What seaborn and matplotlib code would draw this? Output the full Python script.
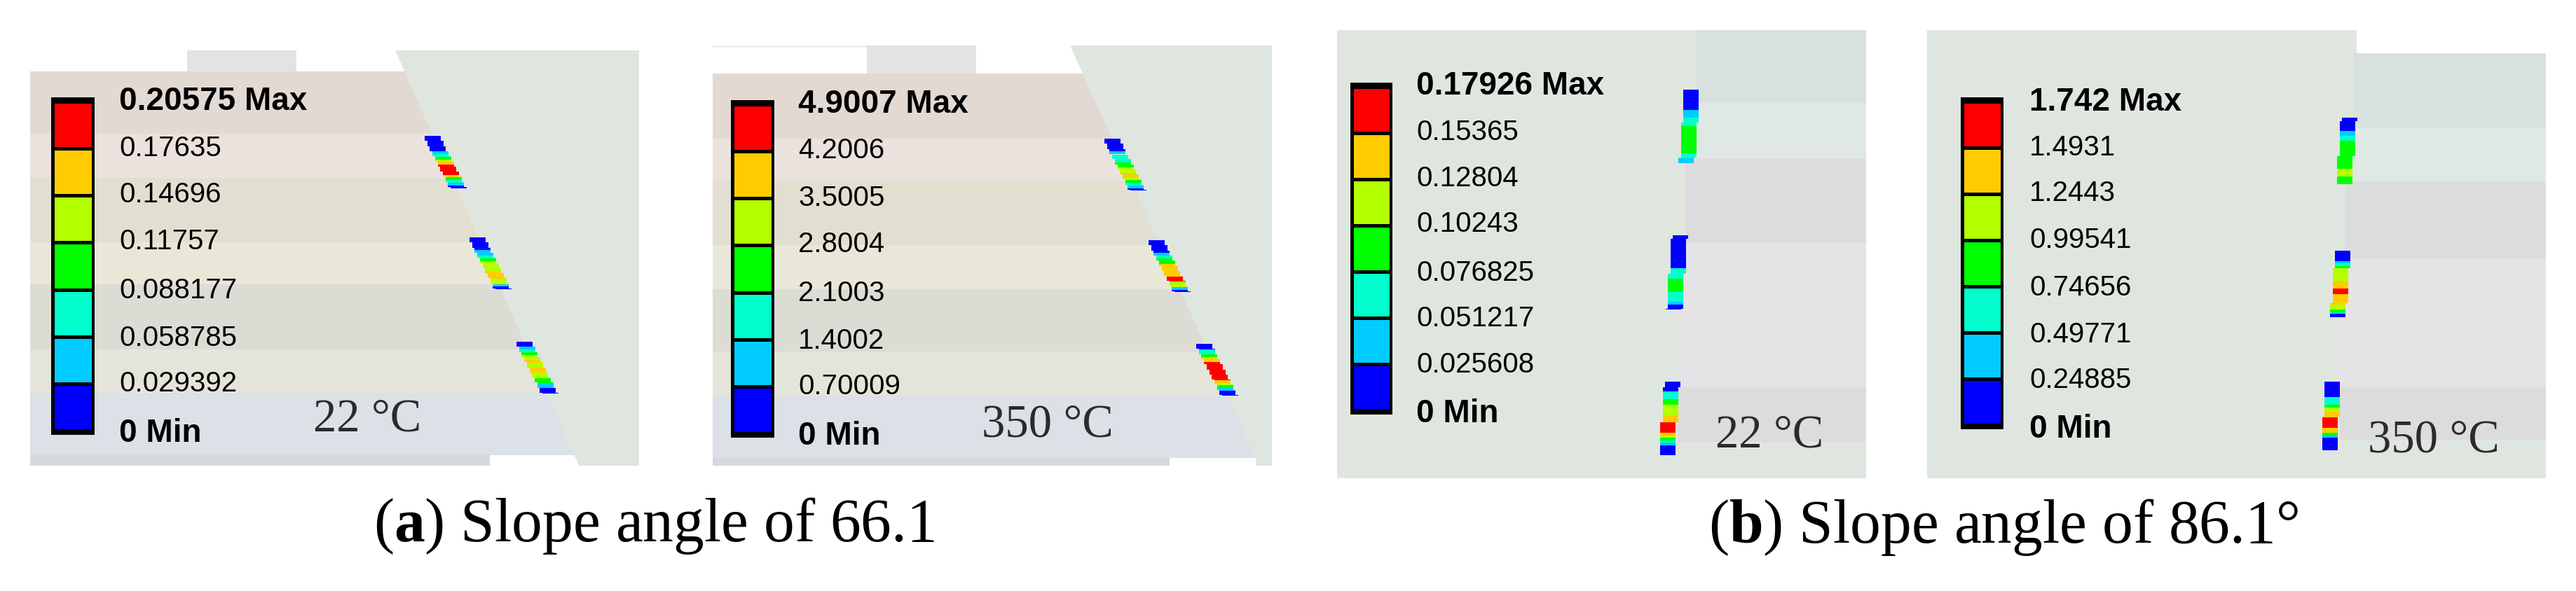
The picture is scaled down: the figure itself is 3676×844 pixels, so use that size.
import numpy as np
import matplotlib
matplotlib.use('Agg')
import matplotlib.pyplot as plt
from matplotlib.colors import ListedColormap
import seaborn as sns

# legend values, top to bottom
labels_a1 = ['0.20575 Max', '0.17635', '0.14696', '0.11757', '0.088177', '0.058785', '0.029392', '0 Min']
labels_a2 = ['4.9007 Max', '4.2006', '3.5005', '2.8004', '2.1003', '1.4002', '0.70009', '0 Min']
labels_b1 = ['0.17926 Max', '0.15365', '0.12804', '0.10243', '0.076825', '0.051217', '0.025608', '0 Min']
labels_b2 = ['1.742 Max', '1.4931', '1.2443', '0.99541', '0.74656', '0.49771', '0.24885', '0 Min']

temps = ['22 °C', '350 °C', '22 °C', '350 °C']
captions = [r'($\mathbf{a}$) Slope angle of 66.1', r'($\mathbf{b}$) Slope angle of 86.1°']

# colour level and length (px) of each run along the three stress strips of a panel
levels_a1 = [[0, 1, 2, 3, 4, 5, 6, 5, 3, 2, 1, 0], [0, 1, 2, 3, 4, 5, 4, 1, 0], [0, 1, 2, 3, 4, 5, 4, 5, 4, 3, 1, 0]]
runs_a1 = [[22.3, 4, 3.3, 4, 3.7, 3.7, 14.7, 3.7, 4, 3.7, 3.7, 4],
           [18.3, 7.7, 3.7, 4, 14.7, 11, 7.3, 3.7, 3.7],
           [7.3, 4, 3.7, 4, 7, 3.7, 7.3, 7.3, 7.3, 7.3, 7.3, 7.7]]
levels_a2 = [[0, 1, 2, 3, 4, 5, 4, 3, 2, 1, 0], [0, 1, 2, 3, 5, 6, 4, 1, 0], [0, 2, 3, 5, 6, 5, 4, 3, 1, 0]]
runs_a2 = [[18.4, 4.1, 11, 7.3, 7.8, 7.3, 3.3, 4.1, 4.1, 3.3, 3.7],
           [18.4, 3.7, 4.1, 7.3, 18.4, 7.3, 7.3, 4.1, 3.7],
           [7.8, 7.3, 4.1, 6.9, 25.7, 4.1, 3.3, 4.1, 3.7, 7.3]]
levels_b1 = [[0, 1, 2, 3, 2, 1], [0, 2, 3, 2, 1, 0], [0, 2, 3, 4, 5, 6, 5, 4, 3, 2, 1, 0]]
runs_b1 = [[29, 10.8, 11.7, 39.9, 6.9, 6.9],
           [47.3, 14.7, 18.6, 14.3, 3.9, 6.9],
           [14.3, 10.8, 8.2, 14.3, 10, 15.2, 3.9, 3.5, 4.3, 3, 3.5, 14.3]]
levels_b2 = [[0, 1, 2, 3, 4, 3], [0, 1, 2, 3, 4, 5, 6, 5, 4, 3, 2, 0], [0, 2, 3, 4, 5, 6, 5, 3, 1, 0]]
runs_b2 = [[18.6, 6.9, 7.4, 40.3, 10.8, 10.8],
           [15.2, 3, 3.5, 3.5, 19.1, 10, 7.4, 15.2, 6.9, 3.9, 2.6, 4.3],
           [21.7, 10.8, 4.3, 6.5, 7.8, 14.7, 6.9, 3.9, 3.5, 18.2]]

level_colors = ['#0000ff', '#00ccff', '#00ffcc', '#00ff00', '#b4ff00', '#ffcc00', '#ff0000']

# layout below, all in pixels of the 3676x844 picture
W, H = 3676, 844
green = '#dfe6df'
bands_a = ['#e3d9d3', '#ebe2dd', '#e2dfd1', '#e9e7d8', '#dddcd4', '#e4e4da', '#dce0e7', '#d5d8dc']
bands_b = ['#d9e1de', '#e0e8e6', '#dcdcde', '#e4e4e6', '#dcdcdc']

sns.set_theme(style='white')
plt.rcParams['font.family'] = ['Liberation Sans', 'DejaVu Sans']
plt.rcParams['mathtext.fontset'] = 'custom'
plt.rcParams['mathtext.rm'] = 'Liberation Serif'
plt.rcParams['mathtext.bf'] = 'Liberation Serif:bold'

fig = plt.figure(figsize=(W / 100, H / 100), dpi=100)
ax = fig.add_axes([0, 0, 1, 1])
ax.set_xlim(0, W)
ax.set_ylim(H, 0)
ax.axis('off')


def block(x0, x1, y0, y1, color):
    ax.barh(y0, x1 - x0, height=y1 - y0, left=x0, color=color, align='edge', linewidth=0)


def strip(x0, y0, levels, runs, width, dx, dy, phase):
    # stair-stepped strip, shifted sideways by dx every dy pixels
    y = y0
    k0 = np.floor(phase / dy)
    for level, run in zip(levels, runs):
        end = y + run
        while y < end - 0.01:
            k = np.floor((y - y0 + phase) / dy + 1e-6)
            stop = min(end, y0 - phase + (k + 1) * dy)
            block(x0 + dx * (k - k0), x0 + dx * (k - k0) + width, y, stop, level_colors[level])
            y = stop


def legend(x0, x1, y0, y1, label_x, label_ys, labels):
    block(x0, x1, y0, y1, 'black')
    cax = fig.add_axes([(x0 + 2) / W, 1 - (y1 - 6) / H, (x1 - x0 - 4) / W, (y1 - y0 - 12) / H])
    grid = np.arange(len(level_colors))[::-1].reshape(-1, 1)
    sns.heatmap(grid, ax=cax, cmap=ListedColormap(level_colors), cbar=False, linewidths=2.2,
                linecolor='black', xticklabels=False, yticklabels=False)
    for i, (ly, lab) in enumerate(zip(label_ys, labels)):
        bold = i == 0 or i == len(labels) - 1
        ax.text(label_x, ly + 4, lab, fontsize=33 if bold else 29, va='center', ha='left', color='black',
                fontweight='bold' if bold else 'normal')


def temp_label(x, y, s):
    ax.text(x, y + 6, s, family='Liberation Serif', fontsize=48, va='center', color='#2b2b2b')


# panel a, 22 C
for i, c in enumerate(bands_a):
    edges = [102, 191, 254, 346, 406, 499, 561, 650, 665]
    block(43, 699 if i == 7 else 900, edges[i], edges[i + 1], c)
block(267, 423, 72, 102, '#e3e3e3')
ax.fill([564, 912, 912, 826], [72, 72, 665, 665], color=green, lw=0)
for x0, y0, lv, rn in zip([606, 670, 737], [194, 339, 488], levels_a1, runs_a1):
    strip(x0, y0, lv, rn, 23, 3.7, 7.3, 0)
legend(73, 135, 139, 621, 170, [141, 208, 274, 341, 411, 479, 544, 615], labels_a1)
temp_label(447, 593, temps[0])

# panel a, 350 C
block(1017, 1393, 65, 68, '#f0f0f0')
block(1237, 1393, 65, 105, '#e3e3e3')
for i, c in enumerate(bands_a):
    edges = [105, 198, 258, 350, 413, 502, 565, 654, 665]
    block(1017, 1669 if i == 7 else 1800, edges[i], edges[i + 1], c)
ax.fill([1527, 1815, 1815, 1792, 1792], [65, 65, 665, 665, 654], color=green, lw=0)
for x0, y0, lv, rn in zip([1576, 1639, 1707], [198, 343, 491], levels_a2, runs_a2):
    strip(x0, y0, lv, rn, 23, 3.7, 7.3, 0)
legend(1043, 1105, 143, 625, 1139, [145, 211, 279, 345, 415, 483, 548, 619], labels_a2)
temp_label(1401, 601, temps[1])

# panel b, 22 C
block(1908, 2663, 43, 683, green)
edges = [43, 146, 226, 347, 553, 631]
for i, (c, x) in enumerate(zip(bands_b, [2420, 2424, 2405, 2392, 2393])):
    block(x, 2663, edges[i], edges[i + 1], c)
for x0, y0, lv, rn, ph in zip([2402, 2387, 2376], [128, 336, 545], levels_b1, runs_b1, [3, -5, 42]):
    strip(x0, y0, lv, rn, 22, -3.5, 50, ph)
legend(1927, 1987, 118, 592, 2021, [119, 185, 251, 316, 386, 451, 517, 587], labels_b1)
temp_label(2448, 616, temps[2])

# panel b, 350 C
block(2750, 3363, 43, 683, green)
block(3363, 3633, 631, 683, green)
edges = [76, 183, 259, 369, 553, 628]
for i, (c, x) in enumerate(zip(bands_b, [3359, 3363, 3346, 3330, 3339])):
    block(x, 3633, edges[i], edges[i + 1], c)
block(3339, 3633, 628, 683, green)
for x0, y0, lv, rn, ph in zip([3342, 3332, 3317], [168, 358, 545], levels_b2, runs_b2, [-5, 25, 0]):
    strip(x0, y0, lv, rn, 22, -3.5, 50, ph)
legend(2798, 2859, 139, 613, 2896, [142, 207, 272, 339, 407, 474, 539, 609], labels_b2)
temp_label(3379, 623, temps[3])

# captions under the two pairs of panels
ax.text(533, 773, captions[0], family='Liberation Serif', fontsize=63, va='baseline', color='black')
ax.text(2438, 775, captions[1], family='Liberation Serif', fontsize=63, va='baseline', color='black')

fig.savefig('out.png', dpi=100)
